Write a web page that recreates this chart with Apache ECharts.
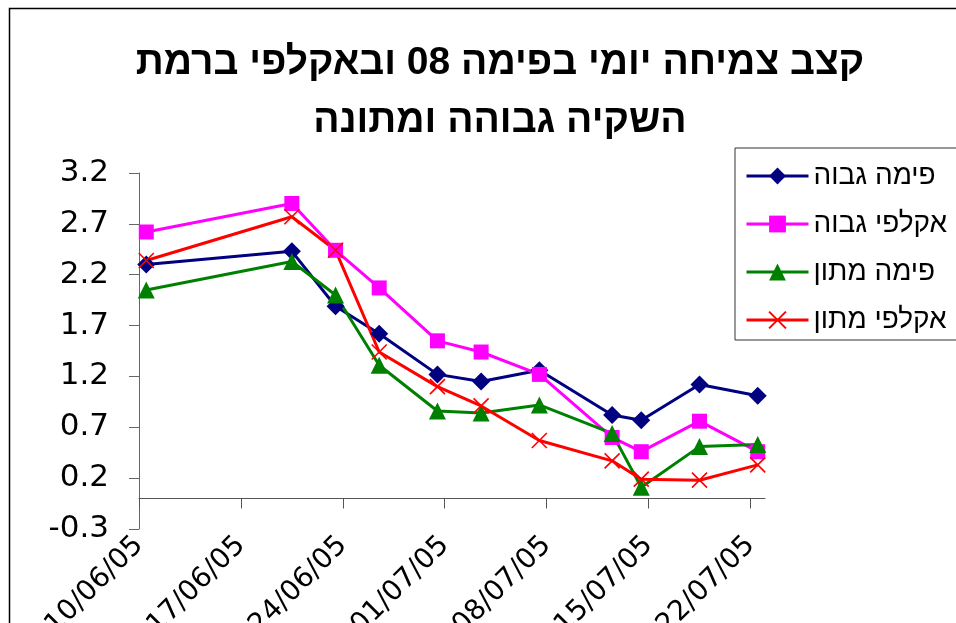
<!DOCTYPE html>
<html>
<head>
<meta charset="utf-8">
<script src="https://cdn.jsdelivr.net/npm/echarts@6/dist/echarts.min.js"></script>
<style>
  html, body { margin: 0; padding: 0; background: #fff; }
  #chart { width: 956px; height: 623px; }
</style>
</head>
<body>
<div id="chart"></div>
<script>
// ---- data ----
const titleLines = ['קצב צמיחה יומי בפימה 08 ובאקלפי ברמת', 'השקיה גבוהה ומתונה'];
const dates = ['10/06/05', '20/06/05', '23/06/05', '26/06/05', '30/06/05', '03/07/05', '07/07/05', '12/07/05', '14/07/05', '18/07/05', '22/07/05'];
const tickDates = ['10/06/05', '17/06/05', '24/06/05', '01/07/05', '08/07/05', '15/07/05', '22/07/05'];
const axisStart = '10/06/05';
const axisEnd = '23/07/05';
const seriesNames = ['פימה גבוה', 'אקלפי גבוה', 'פימה מתון', 'אקלפי מתון'];
const pimaHigh = [2.30, 2.43, 1.89, 1.62, 1.22, 1.15, 1.26, 0.82, 0.77, 1.12, 1.01];
const akalpiHigh = [2.62, 2.90, 2.44, 2.07, 1.55, 1.44, 1.22, 0.60, 0.46, 0.76, 0.46];
const pimaModerate = [2.05, 2.33, 2.00, 1.31, 0.86, 0.84, 0.92, 0.64, 0.11, 0.51, 0.53];
const akalpiModerate = [2.34, 2.77, 2.44, 1.44, 1.10, 0.91, 0.57, 0.37, 0.19, 0.18, 0.33];
const yMin = -0.3, yMax = 3.2, yStep = 0.5;

// ---- helpers ----
function toUTC(s) {
  const p = s.split('/').map(Number);
  return Date.UTC(2000 + p[2], p[1] - 1, p[0]);
}
const t0 = toUTC(axisStart);
function dayIndex(s) { return Math.round((toUTC(s) - t0) / 86400000); }
const tickDays = tickDates.map(dayIndex);
const dayLabel = {};
tickDates.forEach(function (d) { dayLabel[dayIndex(d)] = d; });
function pts(vals) { return dates.map(function (d, i) { return [dayIndex(d) + 0.5, vals[i]]; }); }

const FONT = '"Liberation Sans", Arial, "DejaVu Sans", sans-serif';
const LABEL_FONT = '"DejaVu Sans", "Liberation Sans", sans-serif';

const chart = echarts.init(document.getElementById('chart'), null, { renderer: 'canvas' });

function mk(name, vals, color, symbol, size, extra) {
  return Object.assign({
    name: name,
    type: 'line',
    xAxisIndex: 0,
    data: pts(vals),
    symbol: symbol,
    symbolSize: size,
    lineStyle: { color: color, width: 3 },
    itemStyle: { color: color, borderWidth: 0 },
    emphasis: { disabled: true },
    animation: false
  }, extra || {});
}

chart.setOption({
  backgroundColor: '#fff',
  animation: false,
  graphic: [
    {
      type: 'rect',
      shape: { x: 9.5, y: 8.5, width: 1000, height: 700 },
      style: { fill: 'none', stroke: '#000', lineWidth: 1.5 },
      z: -1
    },
    {
      type: 'text',
      x: 500,
      y: 34,
      style: {
        text: titleLines.join('\n'),
        textAlign: 'center',
        font: 'bold 39px ' + FONT,
        lineHeight: 58,
        fill: '#000'
      }
    }
  ],
  grid: { left: 139, top: 173, width: 626, height: 356, containLabel: false, outerBoundsMode: 'none' },
  legend: {
    orient: 'vertical',
    left: 735,
    top: 148,
    itemWidth: 62,
    itemHeight: 21,
    itemGap: 20,
    data: seriesNames,
    textStyle: { fontSize: 28, fontFamily: FONT, color: '#000' },
    lineStyle: { width: 3 },
    borderColor: '#333',
    borderWidth: 1,
    padding: [14, 40, 6, 10],
    selectedMode: false
  },
  xAxis: [
    {
      type: 'value',
      min: 0,
      max: dayIndex(axisEnd),
      position: 'bottom',
      axisLine: { show: false, onZero: false },
      axisTick: { show: false },
      splitLine: { show: false },
      axisLabel: {
        customValues: tickDays,
        rotate: 45,
        margin: 12,
        fontSize: 28,
        fontFamily: LABEL_FONT,
        color: '#000',
        formatter: function (v) { return dayLabel[Math.round(v)] || ''; }
      }
    },
    {
      type: 'value',
      min: 0,
      max: dayIndex(axisEnd),
      position: 'bottom',
      axisLine: { show: true, onZero: true, lineStyle: { color: '#555', width: 1 } },
      axisTick: { show: true, customValues: tickDays, length: 10, inside: false, lineStyle: { color: '#555' } },
      axisLabel: { show: false },
      splitLine: { show: false }
    }
  ],
  yAxis: {
    type: 'value',
    min: yMin,
    max: yMax,
    interval: yStep,
    axisLine: { show: true, lineStyle: { color: '#666', width: 1 } },
    axisTick: { show: true, length: 10, inside: false, lineStyle: { color: '#666' } },
    splitLine: { show: false },
    axisLabel: {
      margin: 30,
      fontSize: 31,
      fontFamily: LABEL_FONT,
      color: '#000',
      padding: [13, 0, 0, 0],
      formatter: function (v) { return (Math.round(v * 10) / 10).toFixed(1); }
    }
  },
  series: [
    mk(seriesNames[0], pimaHigh, '#000080', 'diamond', 18),
    mk(seriesNames[1], akalpiHigh, '#FF00FF', 'rect', 15),
    mk(seriesNames[2], pimaModerate, '#008000', 'triangle', 17),
    mk(seriesNames[3], akalpiModerate, '#FF0000', 'path://M0,0L10,10M10,0L0,10', 15, {
      itemStyle: { color: '#FF0000', borderColor: '#FF0000', borderWidth: 1.6 }
    })
  ]
});
</script>
</body>
</html>
